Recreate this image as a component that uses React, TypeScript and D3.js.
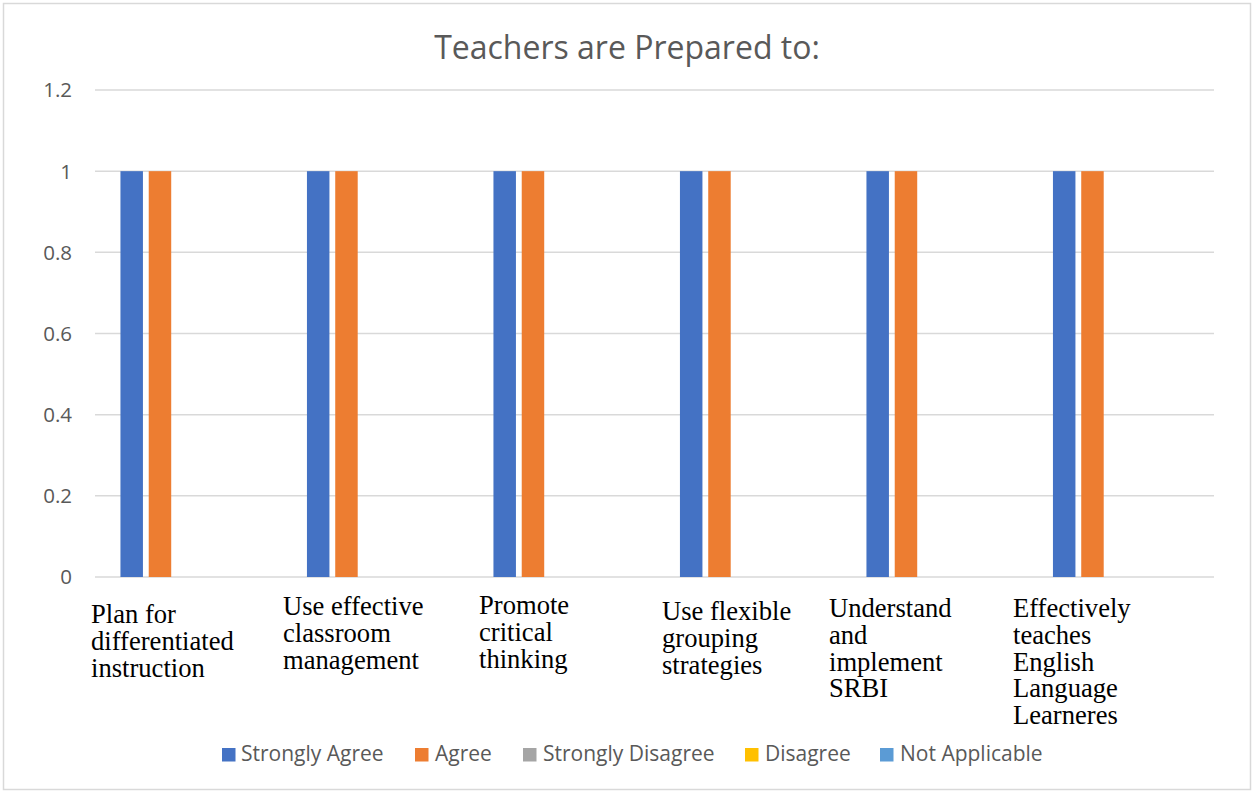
import React from "react";
import * as d3 from "d3";

const categories: string[][] = [
  ["Plan for", "differentiated", "instruction"],
  ["Use effective", "classroom", "management"],
  ["Promote", "critical", "thinking"],
  ["Use flexible", "grouping", "strategies"],
  ["Understand", "and", "implement", "SRBI"],
  ["Effectively", "teaches", "English", "Language", "Learneres"],
];
const seriesNames = ["Strongly Agree", "Agree", "Strongly Disagree", "Disagree", "Not Applicable"];
const stronglyAgree = [1, 1, 1, 1, 1, 1];
const agree = [1, 1, 1, 1, 1, 1];
const stronglyDisagree = [0, 0, 0, 0, 0, 0];
const disagree = [0, 0, 0, 0, 0, 0];
const notApplicable = [0, 0, 0, 0, 0, 0];
const yTicks = [0, 0.2, 0.4, 0.6, 0.8, 1, 1.2];
const title = "Teachers are Prepared to:";

const seriesValues = [stronglyAgree, agree, stronglyDisagree, disagree, notApplicable];
const colors = ["#4472C4", "#ED7D31", "#A5A5A5", "#FFC000", "#5B9BD5"];

// layout tweaks for the (irregularly placed) category labels
const labelDx = [-4, 1.5, 11, 7.5, -12, -14.5];
const labelBaseline = [623, 615, 614, 620, 617, 617];

const W = 1252;
const H = 792;
const plot = { left: 95, right: 1214, top: 90, bottom: 577 };

export default function App() {
  const idx = categories.map((_, i) => String(i));
  const x0 = d3.scaleBand<string>().domain(idx).range([plot.left, plot.right]).paddingInner(0).paddingOuter(0);
  const x1 = d3
    .scaleBand<string>()
    .domain(seriesNames)
    .range([0, x0.bandwidth()])
    .paddingInner(0.205)
    .paddingOuter(0.9);
  const y = d3.scaleLinear().domain([0, 1.2]).range([plot.bottom, plot.top]);

  const sans = "'Open Sans', sans-serif";
  const legendItems = [
    { x: 222, tx: 241 },
    { x: 415, tx: 435 },
    { x: 523, tx: 543 },
    { x: 745, tx: 765 },
    { x: 880, tx: 900 },
  ];

  return (
    <svg width={W} height={H} style={{ position: "absolute", left: 0, top: 0 }}>
      <rect x={0} y={0} width={W} height={H} fill="#fff" />
      <rect x={3.5} y={3.5} width={1247} height={786} fill="#fff" stroke="#d9d9d9" strokeWidth={1.5} />
      <text x={627} y={59} textAnchor="middle" fontFamily={sans} fontSize={32} fill="#595959">
        {title}
      </text>
      {yTicks.map((t) => (
        <g key={t}>
          <line x1={plot.left} x2={plot.right} y1={y(t)} y2={y(t)} stroke="#d9d9d9" strokeWidth={1.5} />
          <text x={72} y={y(t)} dy="0.36em" textAnchor="end" fontFamily={sans} fontSize={20.5} fill="#595959">
            {d3.format("~g")(t)}
          </text>
        </g>
      ))}
      {idx.map((c, ci) => (
        <g key={c} transform={`translate(${x0(c)},0)`}>
          {seriesNames.map((s, si) => {
            const v = seriesValues[si][ci];
            if (!v) return null;
            return (
              <rect
                key={s}
                x={x1(s)}
                y={y(v)}
                width={x1.bandwidth()}
                height={y(0) - y(v)}
                fill={colors[si]}
              />
            );
          })}
        </g>
      ))}
      {categories.map((lines, ci) => (
        <text
          key={ci}
          x={(x0(String(ci)) as number) + labelDx[ci]}
          y={labelBaseline[ci]}
          fontFamily="'Liberation Serif', 'Times New Roman', serif"
          fontSize={26.6}
          fill="#000"
        >
          {lines.map((l, li) => (
            <tspan key={li} x={(x0(String(ci)) as number) + labelDx[ci]} dy={li === 0 ? 0 : 26.8}>
              {l}
            </tspan>
          ))}
        </text>
      ))}
      {seriesNames.map((s, si) => (
        <g key={s}>
          <rect x={legendItems[si].x} y={748} width={13.5} height={13.5} fill={colors[si]} />
          <text x={legendItems[si].tx} y={761} fontFamily={sans} fontSize={21} fill="#595959">
            {s}
          </text>
        </g>
      ))}
    </svg>
  );
}
